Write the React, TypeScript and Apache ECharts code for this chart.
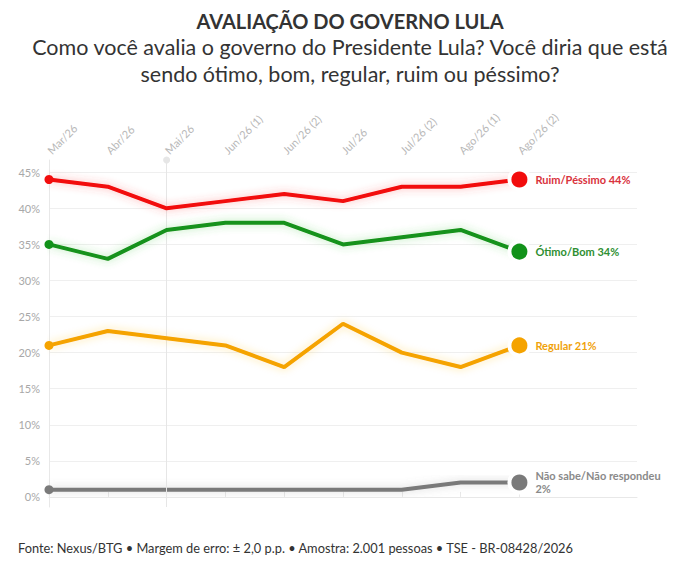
import React, { useEffect, useRef } from "react";
import * as echarts from "echarts";

const categories = [
  "Mar/26", "Abr/26", "Mai/26", "Jun/26 (1)", "Jun/26 (2)",
  "Jul/26", "Jul/26 (2)", "Ago/26 (1)", "Ago/26 (2)",
];
const padCategories = ["", ""];
const ruimPessimo = [44, 43, 40, 41, 42, 41, 43, 43, 44];
const otimoBom = [35, 33, 37, 38, 38, 35, 36, 37, 34];
const regular = [21, 23, 22, 21, 18, 24, 20, 18, 21];
const naoSabe = [1, 1, 1, 1, 1, 1, 1, 2, 2];
const yTicks = [0, 5, 10, 15, 20, 25, 30, 35, 40, 45];

const seriesDefs = [
  { name: "Ruim/Péssimo", values: ruimPessimo, color: "#f20d0d", label: "#d9323c", glow: "rgba(255,60,60,0.4)" },
  { name: "Ótimo/Bom", values: otimoBom, color: "#12921a", label: "#2e8f32", glow: "rgba(60,200,60,0.4)" },
  { name: "Regular", values: regular, color: "#f5a300", label: "#f0a20a", glow: "rgba(255,190,40,0.4)" },
  { name: "Não sabe/Não respondeu", values: naoSabe, color: "#7a7a7a", label: "#8a8a8a", glow: "rgba(120,120,120,0.3)", wrap: true },
];

const FONT = "Lato, 'Open Sans', sans-serif";

export default function App() {
  const ref = useRef<HTMLDivElement>(null);
  useEffect(() => {
    document.body.style.margin = "0";
    const chart = echarts.init(ref.current!, null, { renderer: "svg" });
    const last = categories.length - 1;
    const series: any[] = seriesDefs.map((s, si) => ({
      type: "line",
      name: s.name,
      symbol: "none",
      showSymbol: true,
      z: 3 + (4 - si),
      lineStyle: { width: 4, color: s.color, shadowColor: s.glow, shadowBlur: 9 },
      itemStyle: { color: s.color },
      data: s.values.map((v, i) => {
        if (i === 0) return { value: v, symbol: "circle", symbolSize: 9 };
        if (i === last)
          return {
            value: v,
            symbol: "circle",
            symbolSize: 20,
            itemStyle: { color: s.color, borderColor: "#fff", borderWidth: 4 },
            label: {
              show: true,
              position: "right",
              distance: 4,
              formatter: s.wrap ? `${s.name}\n${v}%` : `${s.name} ${v}%`,
              color: s.label,
              fontFamily: FONT,
              fontWeight: "bold",
              fontSize: 11,
              lineHeight: 13,
              align: "left",
            },
          };
        return { value: v };
      }),
      markLine:
        si === 3
          ? {
              silent: true,
              symbol: ["none", "circle"],
              symbolSize: 7,
              label: { show: false },
              lineStyle: { color: "#e6e6e6", width: 1, type: "solid" },
              itemStyle: { color: "#e6e6e6" },
              data: [{ xAxis: categories[2] }],
            }
          : undefined,
    }));

    chart.setOption({
      animation: false,
      textStyle: { fontFamily: FONT },
      title: {
        text: "AVALIAÇÃO DO GOVERNO LULA",
        subtext: "Como você avalia o governo do Presidente Lula? Você diria que está\nsendo ótimo, bom, regular, ruim ou péssimo?",
        left: "center",
        top: 6,
        itemGap: 2,
        textStyle: { fontFamily: FONT, fontSize: 20, fontWeight: "bold", color: "#333" },
        subtextStyle: { fontFamily: FONT, fontSize: 21.5, color: "#333", lineHeight: 27 },
      },
      grid: { left: 49, right: 63, top: 160, bottom: 66 },
      xAxis: {
        type: "category",
        position: "top",
        boundaryGap: false,
        data: [...categories, ...padCategories],
        axisLine: { lineStyle: { color: "#e8e8e8" } },
        axisTick: {
          show: true,
          length: 5,
          lineStyle: { color: "#e8e8e8" },
          interval: (i: number) => i <= last,
        },
        axisLabel: {
          rotate: 45,
          color: "#b8b8b8",
          fontSize: 11,
          margin: 8,
          fontFamily: FONT,
          interval: (i: number) => i <= last,
        },
        splitLine: { show: false },
      },
      yAxis: {
        type: "value",
        min: -1.4,
        max: 46.7,
        axisLine: { show: true, lineStyle: { color: "#e8e8e8" } },
        axisTick: { show: false, customValues: yTicks },
        axisLabel: {
          customValues: yTicks,
          formatter: (v: number) => `${v}%`,
          color: "#a8a8a8",
          fontSize: 11,
          margin: 9,
          fontFamily: FONT,
        },
        splitLine: { show: true, lineStyle: { color: "#efefef" } },
      },
      graphic: [
        {
          type: "text",
          left: 18,
          top: 541,
          style: {
            text: "Fonte: Nexus/BTG • Margem de erro: ± 2,0 p.p. • Amostra: 2.001 pessoas • TSE - BR-08428/2026",
            fontSize: 12.8,
            fill: "#333",
            fontFamily: FONT,
          },
        },
      ],
      series,
    });
    return () => chart.dispose();
  }, []);
  return <div ref={ref} style={{ width: 700, height: 573 }} />;
}
